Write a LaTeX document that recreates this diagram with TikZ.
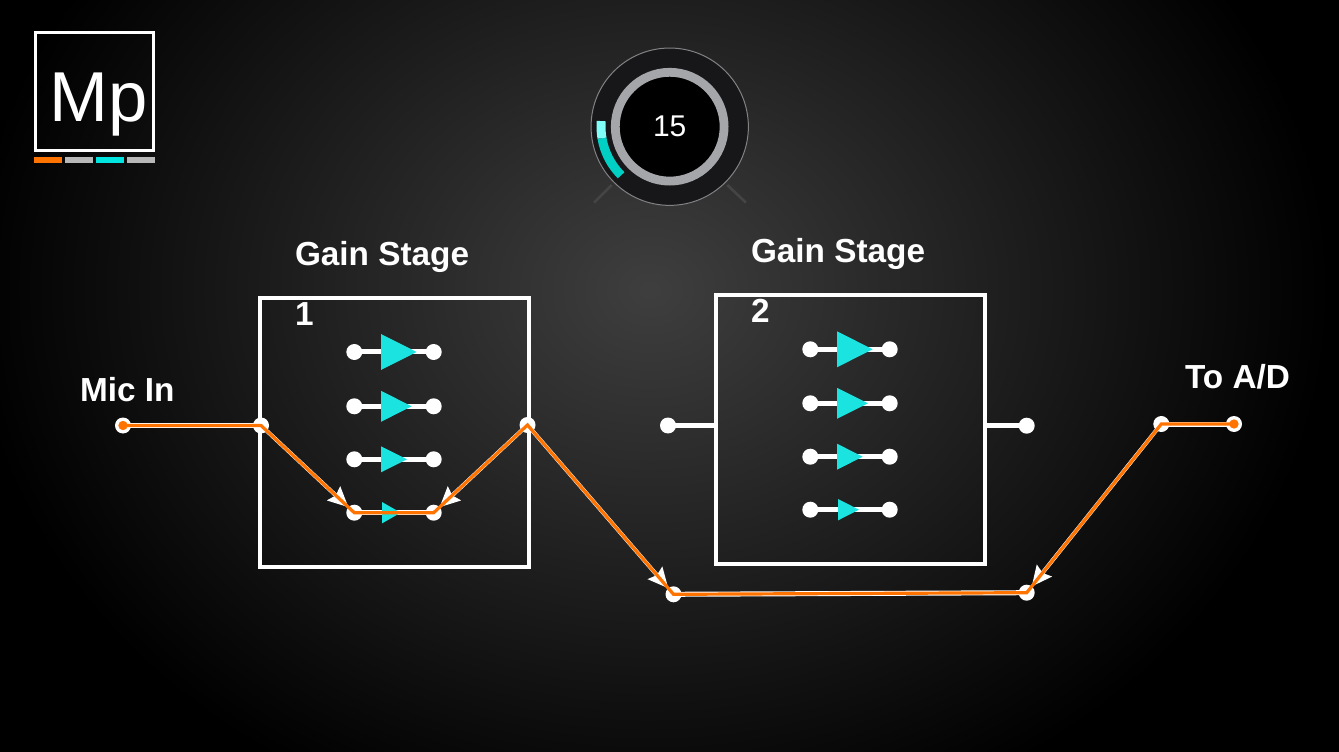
\documentclass[tikz,border=0pt]{standalone}
\usepackage{fontspec}
\setmainfont{Liberation Sans}
\usetikzlibrary{arrows.meta}
\pgfdeclareradialshading{bgglow}{\pgfpoint{0bp}{0bp}}{rgb(0bp)=(.245,.245,.245); rgb(25bp)=(0,0,0); rgb(50bp)=(0,0,0)}
\tikzset{every picture/.style={line width=0.75pt}}
\tikzset{
  dot/.style={circle,fill=white,minimum size=12pt,inner sep=0pt,outer sep=0pt},
  dotend/.style={circle,fill={rgb, 255:red, 255; green, 115; blue, 0 },minimum size=7pt,inner sep=0pt,outer sep=0pt},
  gainbox/.style={draw=white,line width=3pt,minimum width=201.75pt,minimum height=201.5pt,inner sep=0pt},
  gaintri/.style={fill={rgb, 255:red, 27; green, 227; blue, 224 }},
  rowline/.style={draw=white,line width=3.75pt},
  wirewhite/.style={draw=white,line width=3.75pt,line join=round},
  wireorange/.style={draw={rgb, 255:red, 255; green, 115; blue, 0 },line width=2.4pt,line join=miter},
  wirearrow/.style={draw=white,line width=3pt,shorten >=6pt,-{Stealth[length=15pt,width=14pt,inset=2pt]}},
  boldlabel/.style={anchor=base west,inner sep=0pt,text=white,font=\fontsize{25}{30}\selectfont\bfseries},
}

\begin{document}
\begin{tikzpicture}[x=0.75pt,y=0.75pt,yscale=-1,xscale=1]
\useasboundingbox (0,0) rectangle (1339,752);

%Background
\fill [black] (0,0) rectangle (1339,752);
\begin{scope}
\clip (0,0) rectangle (1339,752);
\shade [shading=bgglow] (650,290) ellipse [x radius=680,y radius=560];
\end{scope}

%Logo
\draw (94.5,91.2) node [draw=white,line width=2.25pt,minimum width=88.5pt,minimum height=88.5pt,inner sep=0pt] (logobox) {};
\draw (98.5,121.7) node [anchor=base,inner sep=0pt,text=white,font=\fontsize{53}{60}\selectfont] (logotext) {Mp};
\fill [color={rgb, 255:red, 255; green, 115; blue, 0 }] (34,157) rectangle (62,163);
\fill [color={rgb, 255:red, 184; green, 184; blue, 184 }] (65,157) rectangle (93,163);
\fill [color={rgb, 255:red, 0; green, 229; blue, 224 }] (96,157) rectangle (124,163);
\fill [color={rgb, 255:red, 184; green, 184; blue, 184 }] (127,157) rectangle (155,163);

%Knob
\draw [color={rgb, 255:red, 68; green, 68; blue, 68 },line width=2pt] (611.7,185) -- (594,202.7);
\draw [color={rgb, 255:red, 68; green, 68; blue, 68 },line width=2pt] (727.3,185) -- (746,202.7);
\draw (669.7,126.7) node [circle,draw={rgb, 255:red, 130; green, 130; blue, 132 },fill={rgb, 255:red, 23; green, 23; blue, 26 },line width=0.75pt,minimum size=118pt,inner sep=0pt] (knob) {};
\draw (669.7,126.7) node [circle,draw={rgb, 255:red, 165; green, 166; blue, 170 },fill=black,line width=6.6pt,minimum size=81.6pt,inner sep=0pt,text=white,font=\fontsize{22.5}{27}\selectfont] (knobring) {15};
\draw [color={rgb, 255:red, 0; green, 207; blue, 196 },line width=6.75pt] (knob.center) ++(135:68.7) arc [start angle=135,end angle=170.4,radius=68.7];
\draw [color={rgb, 255:red, 127; green, 255; blue, 248 },line width=6.75pt] (knob.center) ++(170.4:68.7) arc [start angle=170.4,end angle=184.7,radius=68.7];

%Gain stage boxes
\draw (394.5,432.35) node [gainbox] (boxone) {};
\draw (850.5,429.5) node [gainbox] (boxtwo) {};

%Dots of gain stage 1
\draw (354.3,352) node [dot] (aoneleft) {};
\draw (433.7,352) node [dot] (aoneright) {};
\draw (354.3,406.3) node [dot] (atwoleft) {};
\draw (433.7,406.3) node [dot] (atworight) {};
\draw (354.3,459.3) node [dot] (athreeleft) {};
\draw (433.7,459.3) node [dot] (athreeright) {};
\draw (354.3,512.7) node [dot] (afourleft) {};
\draw (433.7,512.7) node [dot] (afourright) {};
%Dots of gain stage 2
\draw (810.3,349.3) node [dot] (boneleft) {};
\draw (889.7,349.3) node [dot] (boneright) {};
\draw (810.3,403.3) node [dot] (btwoleft) {};
\draw (889.7,403.3) node [dot] (btworight) {};
\draw (810.3,456.7) node [dot] (bthreeleft) {};
\draw (889.7,456.7) node [dot] (bthreeright) {};
\draw (810.3,509.7) node [dot] (bfourleft) {};
\draw (889.7,509.7) node [dot] (bfourright) {};
%Dots of the signal path
\draw (123,425.5) node [dot] (micin) {};
\draw (261,425.5) node [dot] (oneinput) {};
\draw (527.5,425) node [dot] (oneoutput) {};
\draw (668,425.5) node [dot] (twoinput) {};
\draw (1026.7,425.7) node [dot] (twooutput) {};
\draw (673.5,594.3) node [dot] (bypassleft) {};
\draw (1026.7,592.7) node [dot] (bypassright) {};
\draw (1161.3,424) node [dot] (adleft) {};
\draw (1234,424) node [dot] (adright) {};

%Straight Lines
\draw [rowline] (aoneleft.center) -- (aoneright.center);
\draw [rowline] (atwoleft.center) -- (atworight.center);
\draw [rowline] (athreeleft.center) -- (athreeright.center);
\draw [rowline] (afourleft.center) -- (afourright.center);
\draw [rowline] (boneleft.center) -- (boneright.center);
\draw [rowline] (btwoleft.center) -- (btworight.center);
\draw [rowline] (bthreeleft.center) -- (bthreeright.center);
\draw [rowline] (bfourleft.center) -- (bfourright.center);
\draw [rowline] (twoinput.center) -- (twoinput -| boxtwo.west);
\draw [rowline] (boxtwo.east |- twooutput) -- (twooutput.center);

%Triangles of gain stage 1
\fill [gaintri] (381,334) -- (416.7,352) -- (381,370) -- cycle;
\fill [gaintri] (381,390.8) -- (411.7,406.3) -- (381,421.8) -- cycle;
\fill [gaintri] (381,446.3) -- (407,459.3) -- (381,472.3) -- cycle;
\fill [gaintri] (382,502) -- (400.7,512.7) -- (382,523.4) -- cycle;
%Triangles of gain stage 2
\fill [gaintri] (837,331.3) -- (872.7,349.3) -- (837,367.3) -- cycle;
\fill [gaintri] (837,387.8) -- (868,403.3) -- (837,418.8) -- cycle;
\fill [gaintri] (837,443.7) -- (862.7,456.7) -- (837,469.7) -- cycle;
\fill [gaintri] (838,499) -- (859,509.7) -- (838,520.4) -- cycle;

%Signal path, white under orange
\draw [wirewhite] (micin.center) -- (oneinput.center);
\draw [wirearrow] (oneinput.center) -- (afourleft.center);
\draw [wirearrow] (oneoutput.center) -- (afourright.center);
\draw [wirearrow] (oneoutput.center) -- (bypassleft.center);
\draw [wirewhite] (bypassleft.center) -- (bypassright.center);
\draw [wirearrow] (adleft.center) -- (bypassright.center);
\draw [wirewhite] (adleft.center) -- (adright.center);
\draw [wireorange] (micin.center) -- (oneinput.center) -- (afourleft.center) -- (afourright.center) -- (oneoutput.center) -- (bypassleft.center) -- (bypassright.center) -- (adleft.center) -- (adright.center);
\draw (123,425.5) node [dotend] (micend) {};
\draw (1234,424) node [dotend] (adend) {};

% Text Node
\draw (294.5,266) node [boldlabel] (gainonetitle) {Gain Stage};
% Text Node
\draw (294.5,325.7) node [boldlabel] (gainonenum) {1};
% Text Node
\draw (750.5,263) node [boldlabel] (gaintwotitle) {Gain Stage};
% Text Node
\draw (750.5,323) node [boldlabel] (gaintwonum) {2};
% Text Node
\draw (79.5,402) node [boldlabel] (micinlabel) {Mic In};
% Text Node
\draw (1184.5,388) node [boldlabel] (adlabel) {To A/D};

\end{tikzpicture}
\end{document}
